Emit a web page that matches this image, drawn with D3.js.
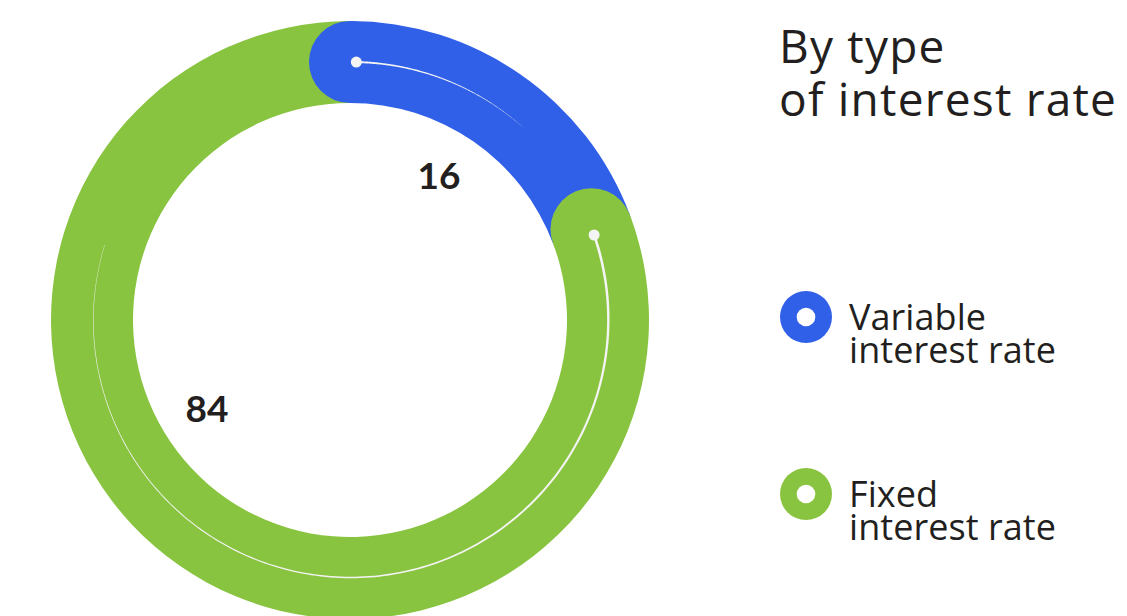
<!DOCTYPE html>
<html>
<head>
<meta charset="utf-8">
<script src="https://cdn.jsdelivr.net/npm/d3@7"></script>
<style>
  html, body { margin: 0; padding: 0; background: #ffffff; }
  svg { display: block; }
  text { font-family: "Open Sans", Lato, sans-serif; fill: #231f20; }
  text.value { font-family: Lato, "Open Sans", sans-serif; }
</style>
</head>
<body>
<svg id="chart" width="1127" height="616"></svg>
<script>
// Share of loans by type of interest rate, %
const categories = ["Variable interest rate", "Fixed interest rate"];
const values = [16, 84];
const legendLines = [["Variable", "interest rate"], ["Fixed", "interest rate"]];
const titleLines = ["By type", "of interest rate"];
const colors = ["#3160e8", "#89c441"];

const cx = 350, cy = 320;
const rOuter = 299, rInner = 217;
const rMid = (rOuter + rInner) / 2;
const capR = (rOuter - rInner) / 2;
const deg = Math.PI / 180;
const joinOffset = 11.8 * deg;   // next band's rounded head sits past the previous band's end
const dotOffset = 1.4 * deg;

const svg = d3.select("#chart");
const g = svg.append("g").attr("transform", `translate(${cx},${cy})`);

const pie = d3.pie().sort(null).value(d => d).startAngle(0).endAngle(2 * Math.PI);
const slices = pie(values);

// head (cap centre) angle of each band
const heads = slices.map((s, i) => i === 0 ? s.startAngle : s.startAngle + joinOffset);

const ring = d3.arc().innerRadius(rInner).outerRadius(rOuter);
const polar = (a, r) => [r * Math.sin(a), -r * Math.cos(a)];

// band bodies: each runs from its head to the next band's head
const bodies = slices.map((s, i) => ({
  startAngle: heads[i],
  endAngle: i + 1 < heads.length ? heads[i + 1] : heads[0] + 2 * Math.PI,
  color: colors[i]
}));

// later bands' bodies first, first band's body on top
d3.range(bodies.length).reverse().forEach(i => {
  g.append("path").attr("d", ring(bodies[i])).attr("fill", bodies[i].color);
});

// rounded heads, each laid over the band before it
slices.forEach((s, i) => {
  const [x, y] = polar(heads[i], rMid);
  g.append("circle").attr("cx", x).attr("cy", y).attr("r", capR).attr("fill", colors[i]);
});

// thin tapered white guide lines running from each head along the band
const guideSpans = [
  { from: heads[0] + dotOffset, to: 44 * deg, w0: 2.0, w1: 0.0, r0: 258, r1: 259 },
  { from: heads[1] + dotOffset, to: 287 * deg, w0: 2.6, w1: 0.3, r0: 258.5, r1: 256.5 }
];
const guideArea = d3.areaRadial()
  .angle(d => d.a)
  .innerRadius(d => d.r - d.w / 2)
  .outerRadius(d => d.r + d.w / 2)
  .curve(d3.curveLinear);

guideSpans.forEach(gs => {
  const n = 200;
  const pts = d3.range(n + 1).map(k => {
    const t = k / n;
    return { a: gs.from + (gs.to - gs.from) * t, r: gs.r0 + (gs.r1 - gs.r0) * t, w: gs.w0 + (gs.w1 - gs.w0) * t };
  });
  g.append("path").attr("d", guideArea(pts)).attr("fill", "#f4f4f4");
  const [x, y] = polar(gs.from, gs.r0);
  g.append("circle").attr("cx", x).attr("cy", y).attr("r", 5.5).attr("fill", "#f4f4f4");
});

// value labels
const labelPos = [[439, 189], [207, 422]];
slices.forEach((s, i) => {
  svg.append("text").attr("class", "value")
    .attr("x", labelPos[i][0]).attr("y", labelPos[i][1])
    .attr("text-anchor", "middle")
    .attr("font-size", 37).attr("font-weight", 700)
    .text(values[i]);
});

// stretch tracking so the longest line spans the given width
function fitWidth(textSel, width) {
  let longest = null, best = 0;
  textSel.selectAll("tspan").each(function () {
    const w = this.getComputedTextLength();
    if (w > best) { best = w; longest = this; }
  });
  const n = longest.textContent.length;
  const ls = (width - best) / (n - 1);
  textSel.attr("letter-spacing", ls.toFixed(2));
}

// title
const title = svg.append("text").attr("x", 779).attr("y", 63)
  .attr("font-size", 46).attr("font-weight", 400);
titleLines.forEach((t, i) => {
  title.append("tspan").attr("x", 779).attr("dy", i === 0 ? 0 : 53).text(t);
});
fitWidth(title, 337);

// legend
const legendY = [317, 494];
categories.forEach((c, i) => {
  const lg = svg.append("g").attr("transform", `translate(806,${legendY[i]})`);
  lg.append("circle").attr("r", 26).attr("fill", colors[i]);
  lg.append("circle").attr("r", 9.3).attr("fill", "#ffffff");
  const t = lg.append("text").attr("x", 43).attr("y", 13)
    .attr("font-size", 36).attr("font-weight", 400);
  legendLines[i].forEach((line, j) => {
    t.append("tspan").attr("x", 43).attr("dy", j === 0 ? 0 : 33).text(line);
  });
  fitWidth(t, 207);
});
</script>
</body>
</html>
